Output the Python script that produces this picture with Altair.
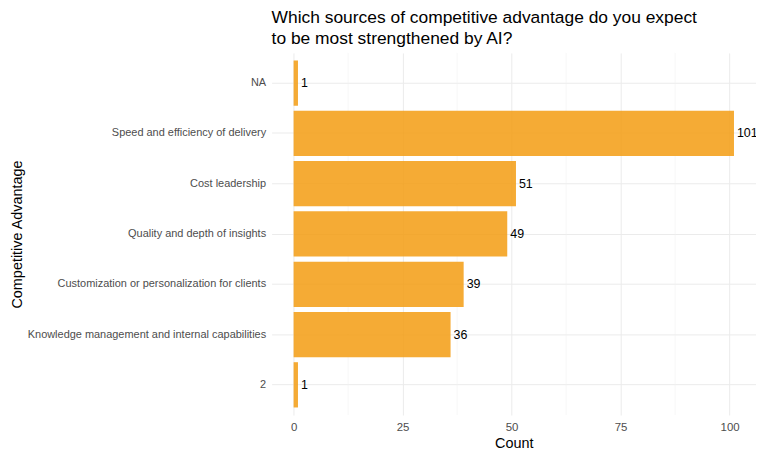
import altair as alt
import pandas as pd

categories = ["NA", "Speed and efficiency of delivery", "Cost leadership",
              "Quality and depth of insights", "Customization or personalization for clients",
              "Knowledge management and internal capabilities", "2"]
counts = [1, 101, 51, 49, 39, 36, 1]
minor_ticks = [12.5, 37.5, 62.5, 87.5]
major_ticks = [0, 25, 50, 75, 100]

df = pd.DataFrame({"cat": categories, "count": counts})
minor_df = pd.DataFrame({"m": minor_ticks})

FONT = "Liberation Sans"
xscale = alt.Scale(domain=[-5.05, 106.05], nice=False, zero=False)
yscale = alt.Scale(domain=categories, paddingInner=0.1, paddingOuter=0.15)

minor = alt.Chart(minor_df).mark_rule(color="#F2F2F2", strokeWidth=0.6).encode(
    x=alt.X("m:Q", scale=xscale)
)

bars = alt.Chart(df).mark_bar(color="#F39C12", opacity=0.85).encode(
    x=alt.X("count:Q", scale=xscale, title="Count",
            axis=alt.Axis(values=major_ticks, format="d", grid=True, gridColor="#EBEBEB",
                          domain=False, ticks=False, labelPadding=7, labelFontSize=11.5,
                          labelColor="#4D4D4D", titleFontSize=14.5, titleColor="#000000",
                          titleFontWeight="normal", titlePadding=3, labelFont=FONT, titleFont=FONT)),
    y=alt.Y("cat:N", scale=yscale, sort=categories, title="Competitive Advantage",
            axis=alt.Axis(grid=True, gridColor="#EBEBEB", bandPosition=0.5, domain=False,
                          ticks=False, labelPadding=6, labelFontSize=11, labelColor="#4D4D4D",
                          labelLimit=400, titleFontSize=14.5, titleColor="#000000",
                          titleFontWeight="normal", titleX=-255, titleY=182, titleAngle=-90,
                          titleBaseline="middle", titleAlign="center",
                          labelFont=FONT, titleFont=FONT)),
)

text = alt.Chart(df).mark_text(align="left", baseline="middle", dx=3, fontSize=12.5,
                               color="#000000", font=FONT).encode(
    x=alt.X("count:Q", scale=xscale),
    y=alt.Y("cat:N", scale=yscale, sort=categories),
    text=alt.Text("count:Q"),
)

chart = alt.layer(minor, bars, text).properties(
    width=487, height=364,
    title=alt.Title(["Which sources of competitive advantage do you expect",
                     "to be most strengthened by AI?"],
                    anchor="start", frame="group", fontSize=17.5, font=FONT,
                    fontWeight="normal", color="#000000", lineHeight=21, offset=5),
    autosize=alt.AutoSizeParams(type="none"),
    padding={"left": 265, "top": 44, "right": 0, "bottom": 34},
).configure_view(stroke=None)

chart.save("out.html", embed_options={"renderer": "svg", "actions": False})
